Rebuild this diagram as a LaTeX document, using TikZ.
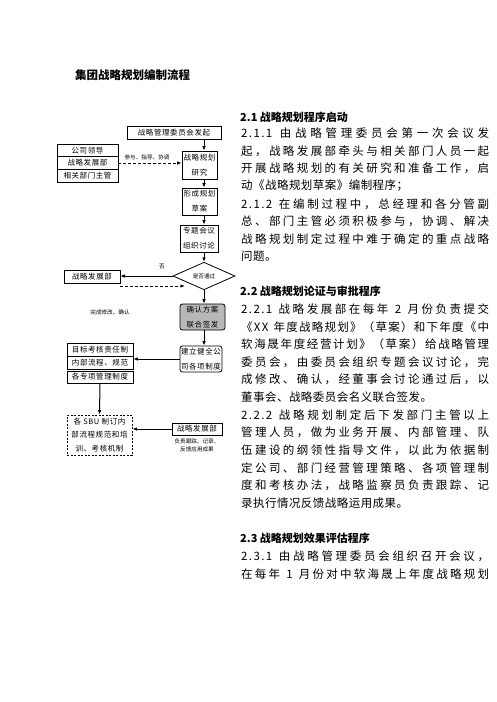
\documentclass[tikz,border=0pt]{standalone}
\usepackage{fontspec}
\newfontfamily\cjk[LetterSpace=4]{Noto Sans CJK SC}
\newfontfamily\cjkfull{Noto Sans CJK SC}
\newfontfamily\cjkbox[LetterSpace=8]{Noto Sans CJK SC}
\newfontfamily\cjkhead{Noto Sans CJK SC}
\newfontfamily\lat[LetterSpace=12]{Noto Sans CJK SC}
\usetikzlibrary{arrows.meta}
\usetikzlibrary{shapes.geometric}

% a full line of the text column, spread to the column width
\def\spreadfirst#1{{#1}\spreadloop}
\def\spreadloop#1{\ifx\end#1\else\hfil{#1}\expandafter\spreadloop\fi}
\newcommand\fullline[1]{\makebox[248pt][s]{\cjkfull\spreadfirst#1\end}}

\tikzset{
  box/.style={draw, line width=0.8pt, inner sep=0pt, align=center,
    font=\cjkbox\fontsize{7.5}{15}\selectfont},
  rbox/.style={box, rounded corners=2.5pt},
  tag/.style={inner sep=0pt, font=\cjkhead\fontsize{5.6}{7}\selectfont},
  arr/.style={-{Latex[length=4.5pt,width=3.6pt]}, line width=1pt},
  body/.style={anchor=west, inner sep=0pt, font=\cjk\fontsize{11.5}{12}\selectfont},
  head/.style={anchor=west, inner sep=0pt, font=\cjkhead\bfseries\fontsize{11}{12}\selectfont},
}

\begin{document}
\begin{tikzpicture}[x=1pt, y=-1pt]
  \useasboundingbox (0,0) rectangle (496,702);
  \coordinate (axis) at (204,0);

  \node[head, font=\cjkhead\bfseries\fontsize{11.5}{12}\selectfont] (title) at (75,75) {集团战略规划编制流程};

  % flow chart
  \node[box, minimum width=94pt, minimum height=13pt] (start) at (174,132.5) {战略管理委员会发起};
  \node[box, minimum width=61pt, minimum height=12.7pt] (lead1) at (87.5,150.3) {公司领导};
  \node[box, minimum width=61pt, minimum height=12.7pt] (lead2) at (87.5,163) {战略发展部};
  \node[box, minimum width=61pt, minimum height=12.7pt] (lead3) at (87.5,175.7) {相关部门主管};
  \node[box, minimum width=35pt, minimum height=28pt] (study) at (199.5,165) {战略规划\\研究};
  \node[box, minimum width=35pt, minimum height=27pt] (draft) at (199.5,201.5) {形成规划\\草案};
  \node[box, minimum width=38pt, minimum height=27pt] (meet) at (199,238.5) {专题会议\\组织讨论};
  \node[diamond, draw, line width=0.8pt, inner sep=0pt, minimum width=62pt, minimum height=23pt,
    font=\cjkhead\fontsize{5.6}{7}\selectfont] (pass) at (204,276) {是否通过};
  \node[box, minimum width=56pt, minimum height=13pt] (dept) at (92,276.5) {战略发展部};
  \node[rbox, fill=black!28, minimum width=45pt, minimum height=26pt] (sign) at (202.5,317) {确认方案\\联合签发};
  \node[rbox, minimum width=42pt, minimum height=26pt] (rules) at (201,359) {建立健全公\\司各项制度};
  \node[box, minimum width=66pt, minimum height=13pt] (sys1) at (100,349.5) {目标考核责任制};
  \node[box, minimum width=66pt, minimum height=13pt] (sys2) at (100,362.5) {内部流程、规范};
  \node[box, minimum width=66pt, minimum height=12pt] (sys3) at (100,377) {各专项管理制度};
  \node[box, dash pattern=on 2pt off 1.5pt, minimum width=65pt, minimum height=40pt,
    font=\cjkbox\fontsize{7.5}{13.3}\selectfont] (sbu) at (99.5,435) {各 SBU 制订内\\部流程规范和培\\训、考核机制};
  \node[box, minimum width=50pt, minimum height=12pt] (track) at (197,429) {战略发展部};
  \node[tag] (track1) at (197,441) {负责跟踪、记录、};
  \node[tag] (track2) at (197,449) {反馈应用成果};

  \node[tag] (help) at (147,157) {参与、指导、协调};
  \node[tag] (no) at (162,267) {否};
  \node[tag] (fix) at (110,312) {完成修改、确认};
  \coordinate (back) at (185,286);

  \draw[arr] (start.south -| axis) -- (study.north -| axis);
  \draw[arr] (study.south -| axis) -- (draft.north -| axis);
  \draw[arr] (draft.south -| axis) -- (meet.north -| axis);
  \draw[arr] (meet.south -| axis) -- (pass.north);
  \draw[arr] (pass.south) -- (sign.north -| axis);
  \draw[arr] (sign.south -| axis) -- (rules.north -| axis);
  \draw[arr, dash pattern=on 3pt off 2pt] (lead2.east) -- (lead2.east -| study.west);
  \draw[arr] (pass.west) -- (pass.west -| dept.east);
  \draw[arr, dash pattern=on 3pt off 2pt] (dept.east |- back) -- (back);
  \draw[arr] (rules.west) -- (rules.west -| sys2.east);
  \draw[arr] (sys3.south) -- (sbu.north);
  \draw[arr] (track.west) -- (track.west -| sbu.east);

  % text column
  \node[head] (h1) at (240,117) {2.1 战略规划程序启动};
  \node[body] (l1) at (241,133) {\fullline{{\lat 2.1.1\ }由战略管理委员会第一次会议发}};
  \node[body] (l2) at (241,151) {\fullline{起，战略发展部牵头与相关部门人员一起}};
  \node[body] (l3) at (241,168) {\fullline{开展战略规划的有关研究和准备工作，启}};
  \node[body] (l4) at (241,186) {动《战略规划草案》编制程序；};
  \node[body] (l5) at (241,204) {\fullline{{\lat 2.1.2\ }在编制过程中，总经理和各分管副}};
  \node[body] (l6) at (241,221) {\fullline{总、部门主管必须积极参与，协调、解决}};
  \node[body] (l7) at (241,239) {\fullline{战略规划制定过程中难于确定的重点战略}};
  \node[body] (l8) at (241,256) {问题。};

  \node[head] (h2) at (240,291) {2.2 战略规划论证与审批程序};
  \node[body] (l9) at (241,309) {\fullline{{\lat 2.2.1\ }战略发展部在每年{\lat\ 2\ }月份负责提交}};
  \node[body] (l10) at (241,327) {\fullline{《{\lat XX\ }年度战略规划》（草案）和下年度《中}};
  \node[body] (l11) at (241,344) {\fullline{软海晟年度经营计划》（草案）给战略管理}};
  \node[body] (l12) at (241,362) {\fullline{委员会，由委员会组织专题会议讨论，完}};
  \node[body] (l13) at (241,379) {\fullline{成修改、确认，经董事会讨论通过后，以}};
  \node[body] (l14) at (241,397) {董事会、战略委员会名义联合签发。};
  \node[body] (l15) at (241,415) {\fullline{{\lat 2.2.2\ }战略规划制定后下发部门主管以上}};
  \node[body] (l16) at (241,432) {\fullline{管理人员，做为业务开展、内部管理、队}};
  \node[body] (l17) at (241,450) {\fullline{伍建设的纲领性指导文件，以此为依据制}};
  \node[body] (l18) at (241,468) {\fullline{定公司、部门经营管理策略、各项管理制}};
  \node[body] (l19) at (241,485) {\fullline{度和考核办法，战略监察员负责跟踪、记}};
  \node[body] (l20) at (241,503) {录执行情况反馈战略运用成果。};

  \node[head] (h3) at (240,538) {2.3 战略规划效果评估程序};
  \node[body] (l21) at (241,556) {\fullline{{\lat 2.3.1\ }由战略管理委员会组织召开会议，}};
  \node[body] (l22) at (241,574) {\fullline{在每年{\lat\ 1\ }月份对中软海晟上年度战略规划}};
\end{tikzpicture}
\end{document}
